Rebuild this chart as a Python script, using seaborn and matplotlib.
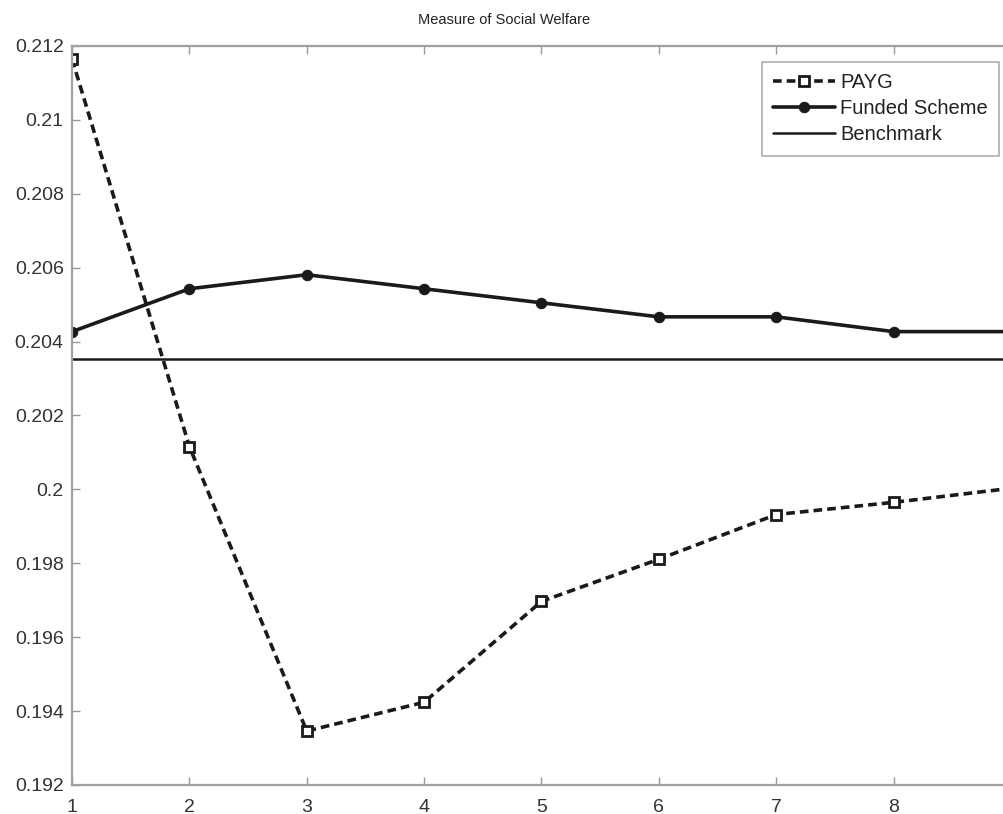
import numpy as np
import pandas as pd
import matplotlib
matplotlib.use("Agg")
import matplotlib.pyplot as plt
import seaborn as sns

# donnees
periods = [1, 2, 3, 4, 5, 6, 7, 8, 9]
x_tick_labels = ["1", "2", "3", "4", "5", "6", "7", "8", ""]
payg = [0.21165, 0.20116, 0.19346, 0.19424, 0.19697, 0.19811, 0.19932, 0.19965, 0.20003]
funded = [0.20427, 0.20543, 0.20581, 0.20543, 0.20505, 0.20467, 0.20467, 0.20427, 0.20427]
benchmark = 0.20354
y_ticks = [0.192, 0.194, 0.196, 0.198, 0.2, 0.202, 0.204, 0.206, 0.208, 0.21, 0.212]
y_tick_labels = ["0.192", "0.194", "0.196", "0.198", "0.2", "0.202",
                 "0.204", "0.206", "0.208", "0.21", "0.212"]

df = pd.DataFrame({"period": periods, "PAYG": payg, "Funded Scheme": funded,
                   "Benchmark": [benchmark] * len(periods)})

sns.set_style("white")
plt.rcParams['font.family'] = ['Liberation Sans', 'DejaVu Sans']

fig = plt.figure(figsize=(10.04, 8.14), dpi=100)
ax = fig.add_axes([72 / 1004, 1 - 785 / 814, 939 / 1004, 739 / 814])

sns.lineplot(data=df, x="period", y="PAYG", ax=ax, color="#1a1a1a", linewidth=2.6,
             linestyle=(0, (2.4, 1.4)), marker="s", markersize=6.5,
             markerfacecolor="white", markeredgecolor="#1a1a1a", markeredgewidth=2,
             label="PAYG")
sns.lineplot(data=df, x="period", y="Funded Scheme", ax=ax, color="#1a1a1a", linewidth=2.6,
             marker="o", markersize=7.5, markerfacecolor="#1a1a1a",
             markeredgecolor="#1a1a1a", label="Funded Scheme")
sns.lineplot(data=df, x="period", y="Benchmark", ax=ax, color="#1a1a1a", linewidth=1.8,
             label="Benchmark")

ax.set_xlim(1, 9)
ax.set_ylim(0.192, 0.212)
ax.set_xticks(periods)
ax.set_xticklabels(x_tick_labels)
ax.set_yticks(y_ticks)
ax.set_yticklabels(y_tick_labels)
ax.set_xlabel("")
ax.set_ylabel("")
ax.tick_params(direction="in", length=6, width=1, colors="#999999",
               labelcolor="#333333", labelsize=14, top=True, right=True,
               left=True, bottom=True)
ax.tick_params(axis="y", pad=6)
ax.tick_params(axis="x", pad=10)
for sp in ax.spines.values():
    sp.set_color("#a0a0a0")
    sp.set_linewidth(1.6)

ax.set_title("Measure of Social Welfare", fontsize=10.5, color="#222222", x=0.46, pad=16)

leg = ax.legend(loc="upper right", bbox_to_anchor=(0.9915, 0.984), fontsize=14.5,
                frameon=True, fancybox=False, handlelength=3.1, borderpad=0.55,
                labelspacing=0.36, handletextpad=0.25, borderaxespad=0.2)
leg.get_frame().set_edgecolor("#999999")
leg.get_frame().set_linewidth(1.2)
for t in leg.get_texts():
    t.set_color("#222222")

plt.savefig("out.png", dpi=100)
